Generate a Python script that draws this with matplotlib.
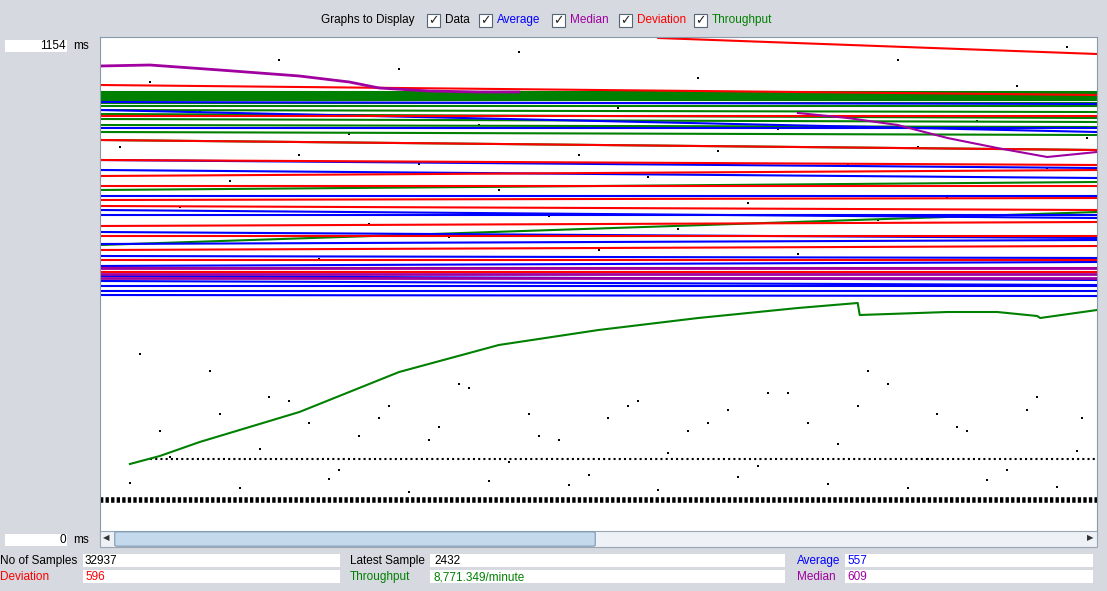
import numpy as np
import matplotlib.pyplot as plt
from matplotlib.patches import Rectangle, FancyBboxPatch

plt.rcParams['font.family'] = ['Liberation Sans', 'DejaVu Sans']

W, H = 1107, 591
BG = '#d6d9df'
GREEN = '#008000'
PURPLE = '#a000a0'

# y axis range (ms) and pixel extent of the plot area
y_max = 1154
plot_px = (100, 37, 1097, 535)

def ms(py):
    # pixel row inside plot -> ms
    return (plot_px[3] - py) / (plot_px[3] - plot_px[1]) * y_max

# horizontal series levels (ms), value at left end and at right end
green_left = [ms(p) for p in [92, 94, 96, 98, 100, 103, 106, 110, 114, 119, 125, 132, 140, 190, 245]]
green_right = [ms(p) for p in [92, 94, 96, 98, 100, 103, 106, 112, 118, 122, 127, 135, 150, 182, 212]]
blue_left = [ms(p) for p in [102, 110, 128, 160, 170, 196, 210, 215, 232, 244, 256, 266, 276, 281, 286, 291, 295]]
blue_right = [ms(p) for p in [104, 132, 128, 168, 178, 196, 218, 215, 238, 240, 258, 262, 280, 285, 286, 291, 296]]
red_left = [ms(p) for p in [85, 116, 140, 160, 176, 186, 200, 206, 226, 236, 250, 260, 268, 272]]
red_right = [ms(p) for p in [95, 116, 150, 165, 170, 186, 198, 210, 222, 236, 246, 260, 268, 272]]
purple_left = [ms(p) for p in [268, 274, 278]]
purple_right = [ms(p) for p in [268, 274, 278]]
red_top = [(0.56, ms(38)), (1.0, ms(54))]

# median curve (top left) and purple tail (right)
median_x = [0.0, 0.05, 0.12, 0.2, 0.25, 0.28, 0.33, 0.38, 0.42]
median_y = [ms(p) for p in [66, 65, 70, 76, 82, 88, 91, 92, 92]]
median2_x = [0.7, 0.75, 0.8, 0.85, 0.9, 0.95, 1.0]
median2_y = [ms(p) for p in [113, 118, 125, 138, 148, 157, 152]]

# throughput curve
thr_x = [0.03, 0.06, 0.1, 0.2, 0.3, 0.4, 0.5, 0.6, 0.7, 0.76, 0.762, 0.85, 0.9, 0.94, 0.943, 1.0]
thr_y = [ms(p) for p in [464, 456, 442, 412, 372, 345, 330, 318, 308, 303, 315, 312, 312, 316, 318, 310]]

# sample points (x fraction, ms)
dot_x = [0.02, 0.05, 0.08, 0.1, 0.13, 0.15, 0.18, 0.2, 0.22, 0.25, 0.27, 0.3, 0.32, 0.35, 0.38, 0.4,
         0.42, 0.45, 0.48, 0.5, 0.52, 0.55, 0.58, 0.6, 0.62, 0.65, 0.68, 0.7, 0.72, 0.75, 0.78, 0.8,
         0.82, 0.85, 0.88, 0.9, 0.92, 0.95, 0.97, 0.99, 0.04, 0.11, 0.19, 0.28, 0.36, 0.44, 0.53,
         0.61, 0.69, 0.77, 0.86, 0.93, 0.07, 0.16, 0.24, 0.33, 0.41, 0.49, 0.57, 0.66, 0.74, 0.83,
         0.91, 0.98, 0.03, 0.14, 0.23, 0.31, 0.39, 0.47, 0.56, 0.64, 0.73, 0.81, 0.89, 0.96,
         0.06, 0.12, 0.17, 0.21, 0.26, 0.29, 0.34, 0.37, 0.43, 0.46, 0.51, 0.54, 0.59, 0.63,
         0.67, 0.71, 0.76, 0.79, 0.84, 0.87, 0.94, 0.985]
dot_y = [900, 1050, 760, 980, 820, 700, 1100, 880, 640, 930, 720, 1080, 860, 690, 950, 800,
         1120, 740, 880, 660, 990, 830, 710, 1060, 890, 770, 940, 650, 1010, 860, 730, 1100,
         900, 780, 960, 690, 1040, 850, 1130, 920, 420, 380, 310, 270, 350, 230, 300, 260,
         330, 380, 250, 290, 180, 200, 150, 220, 170, 140, 190, 160, 210, 175, 150, 195,
         120, 110, 130, 100, 125, 115, 105, 135, 118, 108, 128, 112,
         240, 280, 320, 260, 230, 300, 250, 340, 280, 220, 270, 310, 240, 290,
         330, 260, 300, 350, 280, 240, 320, 270]
band_low = ms(500)
band_mid = ms(459)

fig = plt.figure(figsize=(W / 100, H / 100), dpi=100, facecolor=BG)

def fx(x):
    return x / W

def fy(y):
    return 1 - y / H

ax = fig.add_axes([fx(plot_px[0]), fy(plot_px[3]), fx(plot_px[2] - plot_px[0]), (plot_px[3] - plot_px[1]) / H])
ax.set_xlim(0, 1)
ax.set_ylim(0, y_max)
ax.set_xticks([]); ax.set_yticks([])
for s in ax.spines.values():
    s.set_color('#8899aa'); s.set_linewidth(0.8)

# data points
ax.scatter(dot_x, dot_y, s=1.5, c='k', marker='s', linewidths=0)
ax.plot([0.0, 1.0], [band_low, band_low], color='k', lw=4, ls=(0, (0.6, 0.4)))
ax.plot([0.05, 1.0], [band_mid, band_mid], color='k', lw=1.5, ls=(0, (1, 1.5)))

for l, r in zip(green_left, green_right):
    ax.plot([0, 1], [l, r], color=GREEN, lw=1.5)
for l, r in zip(blue_left, blue_right):
    ax.plot([0, 1], [l, r], color='#0000ff', lw=1.5)
for l, r in zip(red_left, red_right):
    ax.plot([0, 1], [l, r], color='#ff0000', lw=1.5)
for l, r in zip(purple_left, purple_right):
    ax.plot([0, 1], [l, r], color=PURPLE, lw=2)
ax.plot([p[0] for p in red_top], [p[1] for p in red_top], color='#ff0000', lw=1.5)
ax.plot(median_x, median_y, color=PURPLE, lw=2)
ax.plot(median2_x, median2_y, color=PURPLE, lw=1.5)
ax.plot(thr_x, thr_y, color=GREEN, lw=1.5)

# scrollbar
fig.patches.append(Rectangle((fx(100), fy(547)), fx(997), 16 / H, transform=fig.transFigure,
                             facecolor='#eef1f5', edgecolor='#99a6b4', lw=0.8))
fig.patches.append(FancyBboxPatch((fx(117), fy(545)), fx(476), 12 / H, transform=fig.transFigure,
                                  boxstyle='round,pad=0.002', facecolor='#c4d9ec', edgecolor='#7c96b0', lw=0.8))
fig.text(fx(106), fy(539), '\u25c0', fontsize=6, va='center', ha='center', color='#333333')
fig.text(fx(1090), fy(539), '\u25b6', fontsize=6, va='center', ha='center', color='#333333')

# axis labels
fs = 8.5
for txt, y in [('1154', 46), ('0', 540)]:
    fig.patches.append(Rectangle((fx(5), fy(y + 6)), fx(62), 12 / H, transform=fig.transFigure,
                                 facecolor='white', edgecolor='none'))
    fig.text(fx(66), fy(y), txt, fontsize=fs, ha='right', va='center')
    fig.text(fx(73), fy(y), 'ms', fontsize=fs, ha='left', va='center')

# header
fig.text(fx(321), fy(20), 'Graphs to Display', fontsize=fs, va='center')
for x, label, col in [(427, 'Data', 'black'), (479, 'Average', '#0000ff'), (552, 'Median', PURPLE),
                      (619, 'Deviation', '#ff0000'), (694, 'Throughput', GREEN)]:
    fig.patches.append(Rectangle((fx(x), fy(27)), fx(13), 13 / H, transform=fig.transFigure,
                                 facecolor='white', edgecolor='#556677', lw=0.8))
    fig.text(fx(x + 6.5), fy(20.5), '\u2713', fontsize=9, ha='center', va='center', color='#222222',
             family='DejaVu Sans')
    fig.text(fx(x + 18), fy(20), label, fontsize=fs, va='center', color=col)

# bottom fields: label x, label, colour, field start, field end, value x, value, value colour
rows = [
    (561, [(0, 'No of Samples', 'black', 83, 340, 85, '32937', 'black'),
           (350, 'Latest Sample', 'black', 430, 785, 434, '2432', 'black'),
           (797, 'Average', '#0000ff', 845, 1093, 847, '557', '#0000ff')]),
    (577, [(0, 'Deviation', '#ff0000', 83, 340, 85, '596', '#ff0000'),
           (350, 'Throughput', GREEN, 430, 785, 434, '8,771.349/minute', GREEN),
           (797, 'Median', PURPLE, 845, 1093, 847, '609', PURPLE)]),
]
for y, items in rows:
    for lx, label, lc, f0, f1, vx, val, vc in items:
        fig.text(fx(lx), fy(y), label, fontsize=fs, va='center', color=lc)
        fig.patches.append(Rectangle((fx(f0), fy(y + 6)), fx(f1 - f0), 13 / H, transform=fig.transFigure,
                                     facecolor='white', edgecolor='none'))
        fig.text(fx(vx), fy(y), val, fontsize=fs, va='center', color=vc)

fig.savefig('out.png', dpi=100, facecolor=BG)
